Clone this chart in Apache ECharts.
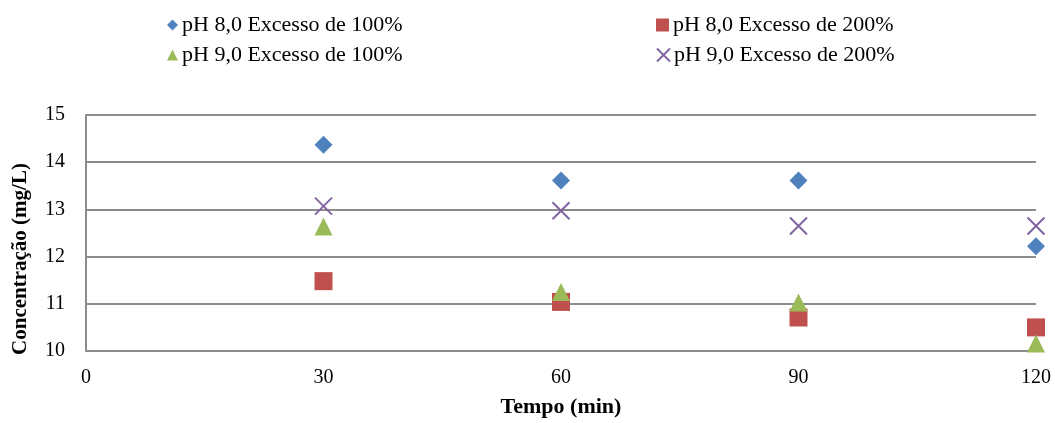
<!DOCTYPE html>
<html>
<head>
<meta charset="utf-8">
<script src="https://cdn.jsdelivr.net/npm/echarts@6/dist/echarts.min.js"></script>
<style>
  html, body { margin: 0; padding: 0; background: #fff; }
  #chart { width: 1055px; height: 423px; }
</style>
</head>
<body>
<div id="chart"></div>
<script>
// Sampling times (min) and measured concentrations (mg/L)
const times = [30, 60, 90, 120];
const ph8Excess100 = [14.37, 13.61, 13.61, 12.22];
const ph8Excess200 = [11.48, 11.04, 10.71, 10.50];
const ph9Excess100 = [12.64, 11.25, 11.03, 10.16];
const ph9Excess200 = [13.07, 12.97, 12.65, 12.65];

const seriesNames = [
  'pH 8,0 Excesso de 100%',
  'pH 8,0 Excesso de 200%',
  'pH 9,0 Excesso de 100%',
  'pH 9,0 Excesso de 200%'
];
const xTicks = [0, 30, 60, 90, 120];
const yTicks = [10, 11, 12, 13, 14, 15];

const FONT = '"Liberation Serif", "Times New Roman", serif';
const GRID_GRAY = '#8c8c8c';
const crossPath = 'path://M0,0L10,10M10,0L0,10';

const pairs = (ys) => times.map((t, i) => [t, ys[i]]);

function legendAt(name, left, top, size) {
  return {
    data: [name],
    left: left,
    top: top,
    padding: 0,
    itemWidth: size,
    itemHeight: size,
    itemGap: 0,
    textStyle: { fontFamily: FONT, fontSize: 22, color: '#000', lineHeight: 24, padding: [0, 0, 0, -1] }
  };
}

const chart = echarts.init(document.getElementById('chart'), null, { renderer: 'canvas' });
chart.setOption({
  animation: false,
  backgroundColor: '#fff',
  legend: [
    legendAt(seriesNames[0], 167, 13, 11),
    legendAt(seriesNames[1], 656, 13, 13),
    legendAt(seriesNames[2], 167, 43, 11),
    legendAt(seriesNames[3], 656, 43, 13)
  ],
  grid: { left: 86, right: 19, top: 115, bottom: 71, containLabel: false },
  xAxis: {
    type: 'value',
    min: xTicks[0],
    max: xTicks[xTicks.length - 1],
    interval: 30,
    name: 'Tempo (min)',
    nameLocation: 'middle',
    nameGap: 45,
    nameTextStyle: { fontFamily: FONT, fontSize: 22, fontWeight: 'bold', color: '#000' },
    axisLine: { show: true, lineStyle: { color: GRID_GRAY, width: 2 } },
    axisTick: { show: false },
    splitLine: { show: false },
    axisLabel: { fontFamily: FONT, fontSize: 20, color: '#000', margin: 17 }
  },
  yAxis: {
    type: 'value',
    min: yTicks[0],
    max: yTicks[yTicks.length - 1],
    interval: 1,
    name: 'Concentração (mg/L)',
    nameLocation: 'middle',
    nameGap: 55,
    nameRotate: 90,
    nameTextStyle: { fontFamily: FONT, fontSize: 21, fontWeight: 'bold', color: '#000', padding: [0, 52, 0, 0] },
    axisLine: { show: true, lineStyle: { color: GRID_GRAY, width: 2 } },
    axisTick: { show: false },
    splitLine: { show: true, lineStyle: { color: GRID_GRAY, width: 2 } },
    axisLabel: { fontFamily: FONT, fontSize: 20, color: '#000', margin: 21 }
  },
  series: [
    {
      name: seriesNames[0], type: 'scatter', symbol: 'diamond', symbolSize: 18,
      itemStyle: { color: '#4F81BD', opacity: 1 }, data: pairs(ph8Excess100)
    },
    {
      name: seriesNames[1], type: 'scatter', symbol: 'rect', symbolSize: 18,
      itemStyle: { color: '#C0504D', opacity: 1 }, data: pairs(ph8Excess200)
    },
    {
      name: seriesNames[2], type: 'scatter', symbol: 'triangle', symbolSize: 18,
      itemStyle: { color: '#9BBB59', opacity: 1 }, data: pairs(ph9Excess100)
    },
    {
      name: seriesNames[3], type: 'scatter', symbol: crossPath, symbolSize: 17,
      itemStyle: { color: 'rgba(0,0,0,0)', borderColor: '#8064A2', borderWidth: 2, opacity: 1 },
      data: pairs(ph9Excess200)
    }
  ]
});
</script>
</body>
</html>
